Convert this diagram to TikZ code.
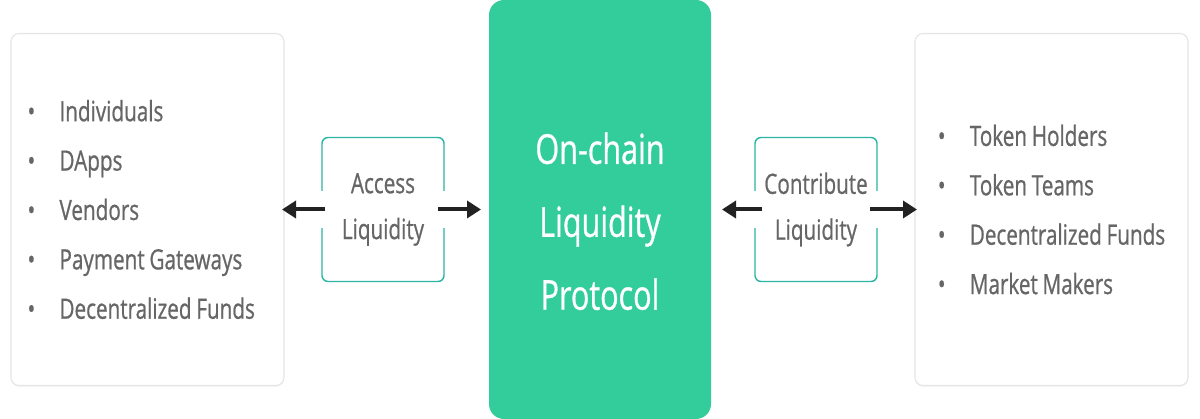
\documentclass[tikz,border=0pt]{standalone}
\usepackage{fontspec}
\setmainfont{Open Sans}[FakeStretch=0.74, FakeBold=0.7]
\usepackage{tikz}
\usetikzlibrary{arrows.meta, positioning, shadows}
\definecolor{liqgreen}{HTML}{33CC9B}
\definecolor{liqteal}{HTML}{2BB3A3}
\definecolor{liqtext}{HTML}{666666}
\definecolor{liqedge}{HTML}{E4E4E4}
\definecolor{liqarrow}{HTML}{222222}
\newcommand{\liqitem}[1]{\spaceskip=0.17em\relax\makebox[0.64cm][l]{\textbullet}#1}

\begin{document}
\begin{tikzpicture}[
    listbox/.style={rectangle, rounded corners=0.16cm, draw=liqedge, fill=white,
        minimum width=5.46cm, minimum height=7.04cm, align=left, text=liqtext,
        font=\fontsize{15.9}{28.1}\selectfont, line width=0.6pt, outer sep=0pt,
        drop shadow={opacity=0.06, shadow xshift=0pt, shadow yshift=-1pt}},
    core/.style={rectangle, rounded corners=0.3cm, fill=liqgreen,
        minimum width=4.44cm, minimum height=8.38cm, align=center, text=white,
        font=\fontsize{23.5}{41.5}\selectfont, outer sep=0pt},
    flow/.style={rectangle, rounded corners=0.12cm, draw=liqteal,
        minimum width=2.44cm, minimum height=2.88cm, align=center, text=liqtext,
        font=\fontsize{15.9}{26.1}\selectfont, line width=0.8pt, outer sep=0pt},
    arr/.style={-{Triangle[length=0.28cm, width=0.34cm]}, line width=0.08cm, liqarrow}
]
    \useasboundingbox (0,0) rectangle (24,8.38);

    \node[core] (proto) at (12,4.19) {\rule{0pt}{1.1cm}On-chain\\Liquidity\\Protocol};
    \node[flow, left=0.9cm of proto] (access) {Access\\Liquidity};
    \node[flow, right=0.88cm of proto] (contrib) {Contribute\\Liquidity};
    \node[listbox, left=0.76cm of access, text width=4.8cm, inner xsep=0.33cm] (users)
        {\liqitem{Individuals}\\ \liqitem{DApps}\\ \liqitem{Vendors}\\
         \liqitem{Payment Gateways}\\ \liqitem{Decentralized Funds}};
    \node[listbox, right=0.76cm of contrib] (providers)
        {\liqitem{Token Holders}\\ \liqitem{Token Teams}\\
         \liqitem{Decentralized Funds}\\ \liqitem{Market Makers}};

    % openings in the side borders where the arrows leave
    \foreach \b in {access, contrib}
        \foreach \s in {west, east}
            \fill[white] ([shift={(-2pt,-0.37cm)}]\b.\s) rectangle ([shift={(2pt,0.37cm)}]\b.\s);

    \draw[arr] ([xshift=0.06cm]access.west) -- ([xshift=-0.04cm]users.east);
    \draw[arr] ([xshift=-0.12cm]access.east) -- ([xshift=-0.16cm]proto.west);
    \draw[arr] ([xshift=0.14cm]contrib.west) -- ([xshift=0.22cm]proto.east);
    \draw[arr] ([xshift=-0.14cm]contrib.east) -- ([xshift=0.04cm]providers.west);
\end{tikzpicture}
\end{document}
